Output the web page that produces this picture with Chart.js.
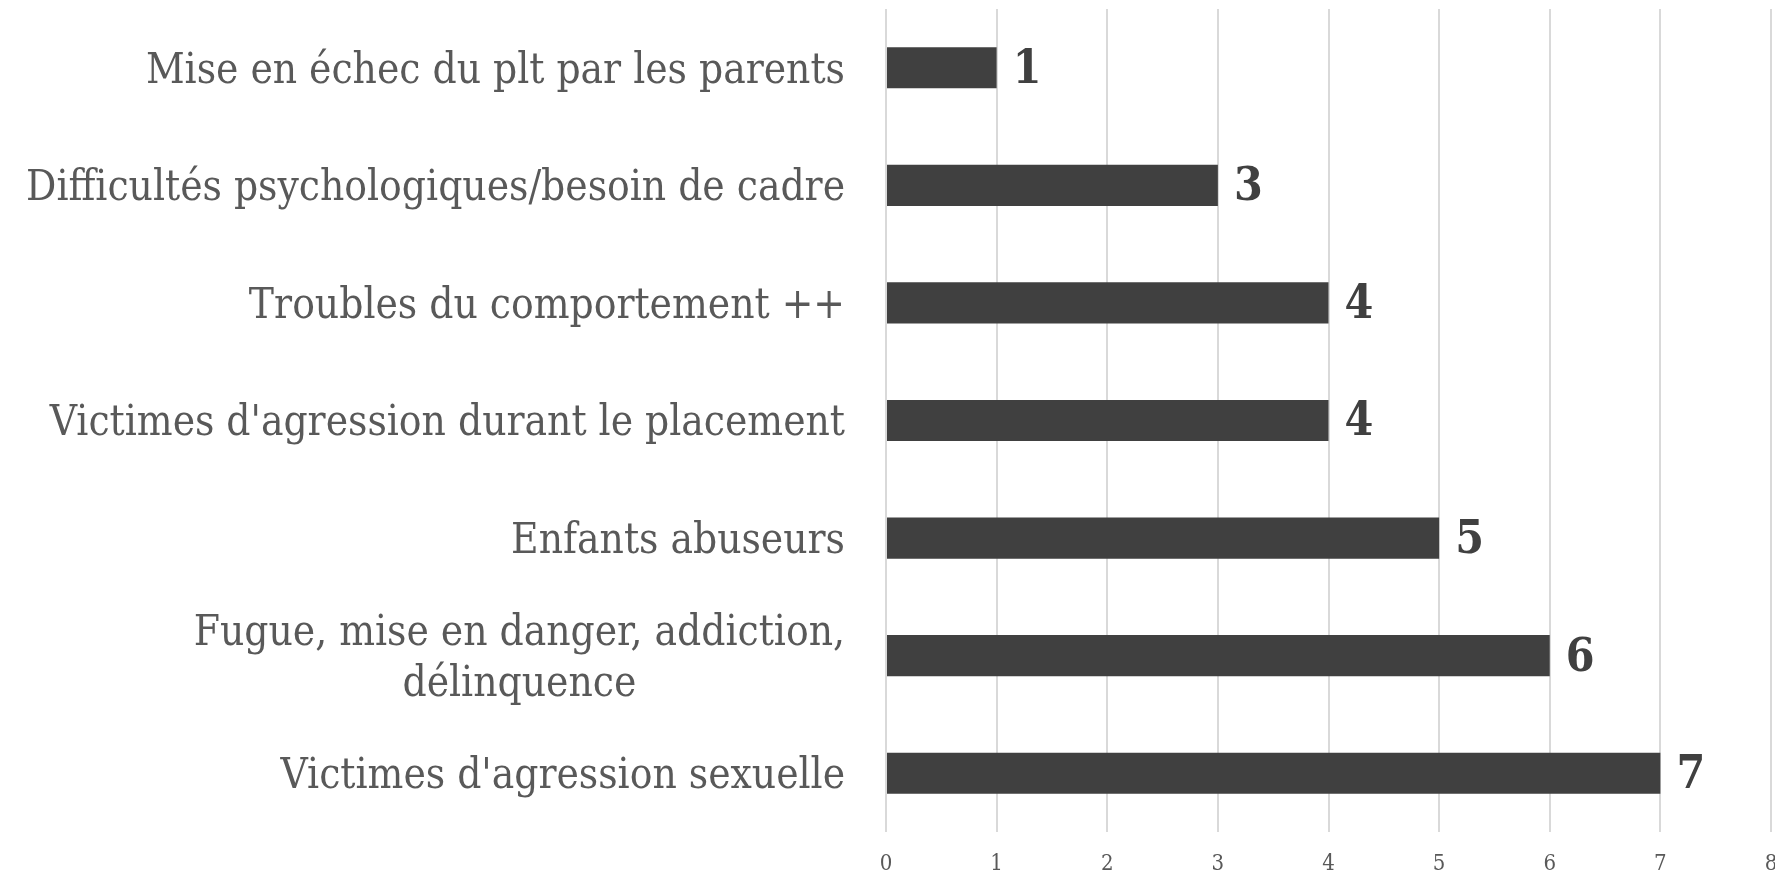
<!DOCTYPE html>
<html>
<head>
<meta charset="utf-8">
<script src="https://cdn.jsdelivr.net/npm/chart.js@4"></script>
<style>
  html, body { margin: 0; padding: 0; background: #fff; }
  #wrap { width: 1775px; height: 875px; }
</style>
</head>
<body>
<div id="wrap"><canvas id="barChart" width="1775" height="875"></canvas></div>
<script>
// categories, top to bottom
const categories = [
  'Mise en échec du plt par les parents',
  'Difficultés psychologiques/besoin de cadre',
  'Troubles du comportement ++',
  "Victimes d'agression durant le placement",
  'Enfants abuseurs',
  ['Fugue, mise en danger, addiction,', 'délinquence'],
  "Victimes d'agression sexuelle",
]
const counts = [1, 3, 4, 4, 5, 6, 7]
const xTicks = [0, 1, 2, 3, 4, 5, 6, 7, 8]

const serif = "'DejaVu Serif Condensed', 'DejaVu Serif', serif"
const labelFont = '42px ' + serif
const valueFont = 'bold 46px ' + serif

// category labels: block right aligned, lines centred inside it (like Excel)
const categoryLabels = {
  id: 'categoryLabels',
  afterDraw(chart) {
    let ctx = chart.ctx
    let yScale = chart.scales.y
    let right = 845
    let lineH = 51
    ctx.save()
    ctx.font = labelFont
    ctx.fillStyle = '#595959'
    ctx.textAlign = 'center'
    ctx.textBaseline = 'middle'
    categories.forEach((lab, i) => {
      let lines = Array.isArray(lab) ? lab : [lab]
      let w = Math.max(...lines.map((l) => ctx.measureText(l).width))
      let cx = right - w / 2
      let cy = yScale.getPixelForValue(i) + 4
      let y0 = cy - ((lines.length - 1) * lineH) / 2
      lines.forEach((l, j) => ctx.fillText(l, cx, y0 + j * lineH))
    })
    ctx.restore()
  },
}

// value labels at bar ends
const valueLabels = {
  id: 'valueLabels',
  afterDatasetsDraw(chart) {
    let ctx = chart.ctx
    let meta = chart.getDatasetMeta(0)
    ctx.save()
    ctx.font = valueFont
    ctx.fillStyle = '#404040'
    ctx.textAlign = 'left'
    ctx.textBaseline = 'middle'
    meta.data.forEach((bar, i) => {
      ctx.fillText(String(counts[i]), bar.x + 16, bar.y + 3)
    })
    ctx.restore()
  },
}

new Chart(document.getElementById('barChart'), {
  type: 'bar',
  data: {
    labels: categories,
    datasets: [
      {
        data: counts,
        backgroundColor: '#404040',
        barPercentage: 0.35,
        categoryPercentage: 1,
      },
    ],
  },
  options: {
    indexAxis: 'y',
    responsive: false,
    animation: false,
    layout: { padding: { top: 9, right: 4, left: 0, bottom: 0 } },
    plugins: { legend: { display: false }, tooltip: { enabled: false } },
    scales: {
      x: {
        min: 0,
        max: 8,
        afterBuildTicks(scale) {
          scale.ticks = xTicks.map((v) => ({ value: v }))
        },
        afterFit(scale) {
          scale.paddingRight = 0
          scale.paddingLeft = 0
          scale.height = 43
        },
        grid: { color: '#d9d9d9', lineWidth: 2, drawTicks: false },
        border: { display: false },
        ticks: {
          padding: 19,
          color: '#595959',
          font: { family: serif, size: 22 },
        },
      },
      y: {
        grid: { display: false },
        border: { display: false },
        ticks: { display: false },
        afterFit(scale) {
          scale.width = 886
        },
      },
    },
  },
  plugins: [categoryLabels, valueLabels],
})
</script>
</body>
</html>
